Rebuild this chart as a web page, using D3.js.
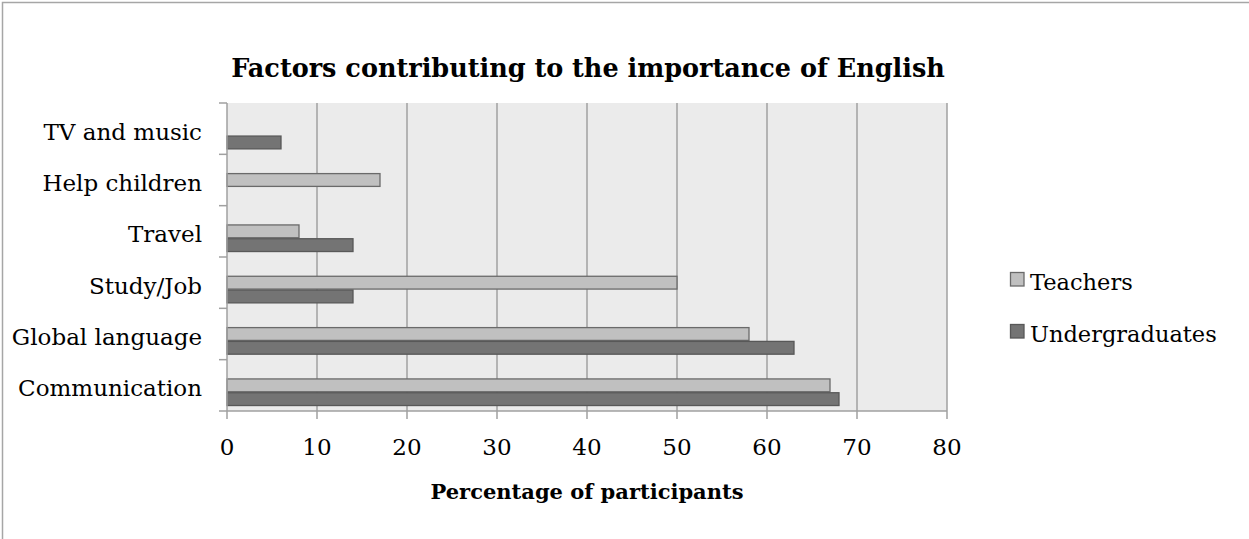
<!DOCTYPE html>
<html>
<head>
<meta charset="utf-8">
<script src="https://cdn.jsdelivr.net/npm/d3@7"></script>
<style>
  body { margin: 0; background: #fff; }
  text { font-family: "DejaVu Serif", "Liberation Serif", serif; fill: #000; }
</style>
</head>
<body>
<div id="container"></div>
<script>
// chart data
var categories = ["TV and music", "Help children", "Travel", "Study/Job", "Global language", "Communication"];
var teachers = [null, 17, 8, 50, 58, 67];
var undergraduates = [6, null, 14, 14, 63, 68];
var seriesNames = ["Teachers", "Undergraduates"];
var xTicks = [0, 10, 20, 30, 40, 50, 60, 70, 80];

var width = 1249, height = 539;
var plot = { left: 227, right: 947, top: 103, bottom: 411 };

var svg = d3.select("#container").append("svg")
    .attr("width", width)
    .attr("height", height);

// outer frame (left and top edges visible)
svg.append("path")
    .attr("d", "M2.5,539 L2.5,2.5 L1249,2.5")
    .attr("fill", "none")
    .attr("stroke", "#a6a6a6")
    .attr("stroke-width", 1.5);

var x = d3.scaleLinear().domain([0, 80]).range([plot.left, plot.right]);
var y = d3.scaleBand().domain(categories).range([plot.top, plot.bottom]);
// excel leaves an empty slot above the two series in every group
var ySub = d3.scaleBand().domain(["", "Teachers", "Undergraduates"])
    .range([0, y.bandwidth()]).paddingOuter(0.36);

// plot background
svg.append("rect")
    .attr("x", plot.left).attr("y", plot.top)
    .attr("width", plot.right - plot.left).attr("height", plot.bottom - plot.top)
    .attr("fill", "#ebebeb");

// vertical gridlines
svg.append("g").selectAll("line")
    .data(xTicks.slice(1))
    .enter().append("line")
    .attr("x1", function(d) { return x(d); })
    .attr("x2", function(d) { return x(d); })
    .attr("y1", plot.top).attr("y2", plot.bottom)
    .attr("stroke", "#a0a0a0")
    .attr("stroke-width", 1.5);

// bars
var rows = categories.map(function(c, i) {
  return { cat: c, values: [
    { name: "Teachers", v: teachers[i], fill: "#c0c0c0", stroke: "#6a6a6a" },
    { name: "Undergraduates", v: undergraduates[i], fill: "#747474", stroke: "#585858" }
  ] };
});

var groups = svg.append("g").selectAll("g")
    .data(rows)
    .enter().append("g")
    .attr("transform", function(d) { return "translate(0," + y(d.cat) + ")"; });

groups.selectAll("rect")
    .data(function(d) { return d.values.filter(function(s) { return s.v != null; }); })
    .enter().append("rect")
    .attr("x", x(0))
    .attr("y", function(d) { return ySub(d.name) + 0.5; })
    .attr("width", function(d) { return x(d.v) - x(0); })
    .attr("height", ySub.bandwidth() - 1)
    .attr("fill", function(d) { return d.fill; })
    .attr("stroke", function(d) { return d.stroke; })
    .attr("stroke-width", 1.3);

// y axis
var yAxis = svg.append("g").attr("transform", "translate(" + plot.left + ",0)");
yAxis.append("line")
    .attr("x1", 0).attr("x2", 0).attr("y1", plot.top).attr("y2", plot.bottom)
    .attr("stroke", "#a0a0a0").attr("stroke-width", 1.5);
var yTickPos = categories.map(function(c) { return y(c); }).concat([plot.bottom]);
yAxis.selectAll("line.tick")
    .data(yTickPos)
    .enter().append("line")
    .attr("class", "tick")
    .attr("x1", -8).attr("x2", 0)
    .attr("y1", function(d) { return d; }).attr("y2", function(d) { return d; })
    .attr("stroke", "#a0a0a0").attr("stroke-width", 1.5);
yAxis.selectAll("text")
    .data(categories)
    .enter().append("text")
    .attr("x", -25)
    .attr("y", function(d) { return y(d) + y.bandwidth() / 2 + 11; })
    .attr("text-anchor", "end")
    .attr("font-size", "23px")
    .text(function(d) { return d; });

// x axis
var xAxis = svg.append("g").attr("transform", "translate(0," + plot.bottom + ")");
xAxis.append("line")
    .attr("x1", plot.left).attr("x2", plot.right).attr("y1", 0).attr("y2", 0)
    .attr("stroke", "#a0a0a0").attr("stroke-width", 1.5);
xAxis.selectAll("line.tick")
    .data(xTicks)
    .enter().append("line")
    .attr("class", "tick")
    .attr("x1", function(d) { return x(d); }).attr("x2", function(d) { return x(d); })
    .attr("y1", 0).attr("y2", 8)
    .attr("stroke", "#a0a0a0").attr("stroke-width", 1.5);
xAxis.selectAll("text")
    .data(xTicks)
    .enter().append("text")
    .attr("x", function(d) { return x(d); })
    .attr("y", 44)
    .attr("text-anchor", "middle")
    .attr("font-size", "23px")
    .text(function(d) { return d; });

// titles
svg.append("text")
    .attr("x", 588).attr("y", 77)
    .attr("text-anchor", "middle")
    .attr("font-size", "25.5px")
    .attr("font-weight", "bold")
    .text("Factors contributing to the importance of English");

svg.append("text")
    .attr("x", 587).attr("y", 499)
    .attr("text-anchor", "middle")
    .attr("font-size", "21px")
    .attr("font-weight", "bold")
    .text("Percentage of participants");

// legend
var legend = svg.append("g").attr("transform", "translate(1010,272)");
var legendItems = legend.selectAll("g")
    .data(rows[5].values)
    .enter().append("g")
    .attr("transform", function(d, i) { return "translate(0," + i * 52 + ")"; });
legendItems.append("rect")
    .attr("x", 0.5).attr("y", 0.5)
    .attr("width", 13.5).attr("height", 13.5)
    .attr("fill", function(d) { return d.fill; })
    .attr("stroke", function(d) { return d.stroke; })
    .attr("stroke-width", 1.3);
legendItems.append("text")
    .attr("x", 20).attr("y", 18)
    .attr("font-size", "22.5px")
    .text(function(d) { return d.name; });
</script>
</body>
</html>
